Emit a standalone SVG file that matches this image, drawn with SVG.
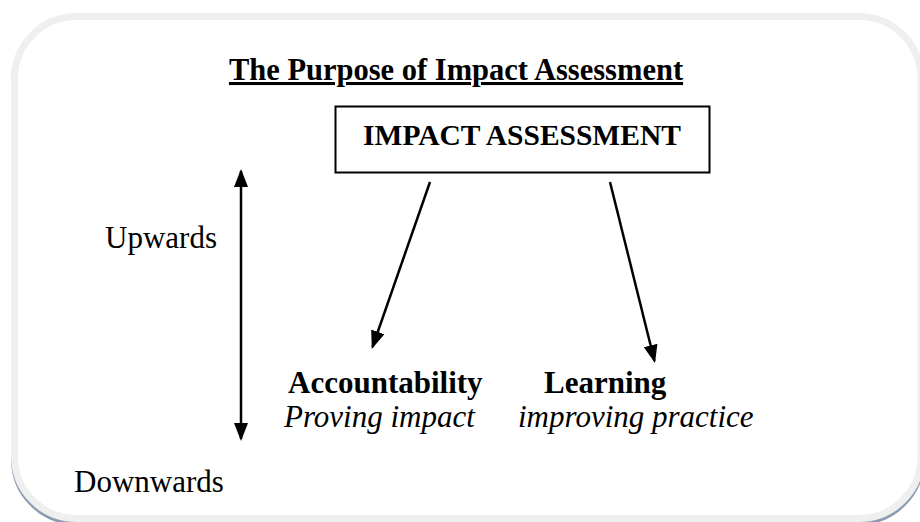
<svg xmlns="http://www.w3.org/2000/svg" width="920" height="522" viewBox="0 0 920 522">
  <style>
    .t { font-family: "Liberation Serif", "Times New Roman", serif; fill: #000; }
    .title { font-size: 30.5px; font-weight: bold; text-decoration: underline; }
    .box-label { font-size: 29.5px; font-weight: bold; }
    .head { font-size: 31px; font-weight: bold; }
    .sub { font-size: 31px; font-style: italic; }
    .side { font-size: 31px; }
    .link { stroke: #000; stroke-width: 2.5; fill: none; }
  </style>
  <defs>
    <marker id="tip" markerUnits="userSpaceOnUse" markerWidth="18" markerHeight="16" viewBox="0 0 18 16" refX="16" refY="8" orient="auto-start-reverse">
      <path d="M0,1 L18,8 L0,15 Z" fill="#000"/>
    </marker>
  </defs>

  <!-- page frame with soft shadow -->
  <g id="frame">
    <rect x="14.5" y="19.5" width="906.5" height="502" rx="62" fill="none" stroke="#8b9bb1" stroke-width="7"/>
    <rect x="14.5" y="16.5" width="906.5" height="502" rx="62" fill="#fff" stroke="#efefef" stroke-width="7"/>
  </g>

  <g id="title">
    <text class="t title" x="456" y="80" text-anchor="middle">The Purpose of Impact Assessment</text>
  </g>

  <g id="impact-assessment">
    <rect x="335.5" y="106.5" width="374" height="66" fill="#fff" stroke="#000" stroke-width="2"/>
    <text class="t box-label" x="522" y="145" text-anchor="middle">IMPACT ASSESSMENT</text>
  </g>

  <g id="accountability">
    <text class="t head" x="288" y="393">Accountability</text>
    <text class="t sub" x="284" y="427">Proving impact</text>
  </g>

  <g id="learning">
    <text class="t head" x="544" y="393">Learning</text>
    <text class="t sub" x="518" y="427">improving practice</text>
  </g>

  <g id="scale">
    <text class="t side" x="161" y="248" text-anchor="middle">Upwards</text>
    <text class="t side" x="149" y="492" text-anchor="middle">Downwards</text>
  </g>

  <g id="connectors">
    <line class="link" x1="241" y1="171" x2="241" y2="439" marker-start="url(#tip)" marker-end="url(#tip)"/>
    <line class="link" x1="430" y1="182" x2="372.5" y2="347" marker-end="url(#tip)"/>
    <line class="link" x1="610" y1="182" x2="654.5" y2="361" marker-end="url(#tip)"/>
  </g>
</svg>
